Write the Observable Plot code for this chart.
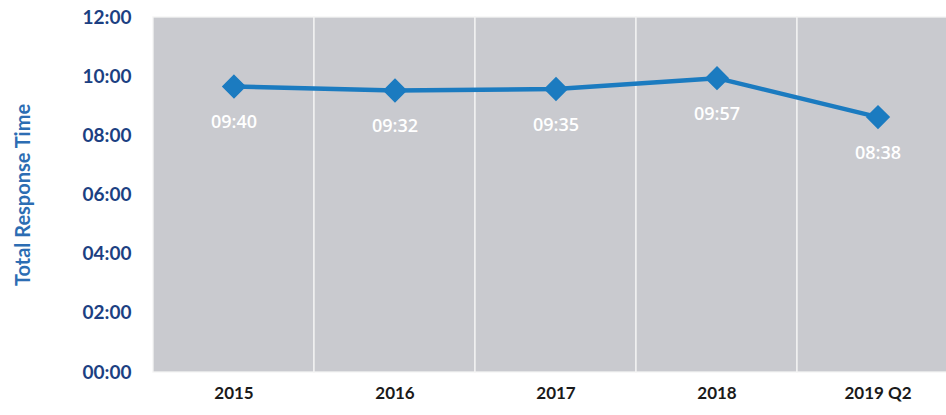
<!DOCTYPE html>
<html>
<head>
<meta charset="utf-8">
<script src="https://cdn.jsdelivr.net/npm/d3@7"></script>
<script src="https://cdn.jsdelivr.net/npm/@observablehq/plot@0.6"></script>
<style>
  html, body { margin: 0; padding: 0; background: #fff; overflow: hidden; }
  #chart svg { display: block; overflow: visible; }
</style>
</head>
<body>
<div id="chart"></div>
<script>
const categories = ["2015", "2016", "2017", "2018", "2019 Q2"];
const responseSeconds = [580, 572, 575, 597, 518]; // 09:40, 09:32, 09:35, 09:57, 08:38
const yTicksMinutes = [0, 2, 4, 6, 8, 10, 12];

const fmt = (secs) => {
  const m = Math.floor(secs / 60), s = Math.round(secs - m * 60);
  return String(m).padStart(2, "0") + ":" + String(s).padStart(2, "0");
};
const data = categories.map((c, i) => ({cat: c, min: responseSeconds[i] / 60, label: fmt(responseSeconds[i])}));

const chart = Plot.plot({
  width: 946,
  height: 415,
  marginTop: 17,
  marginBottom: 43,
  marginLeft: 153,
  marginRight: -12,
  style: {fontFamily: "Lato, 'Open Sans', sans-serif", background: "transparent"},
  x: {domain: categories, padding: 0, label: null},
  y: {domain: [0, 12], label: null},
  marks: [
    Plot.cell(categories, {x: d => d, fill: "#c9cacf", stroke: "#f4f4f4", strokeWidth: 1.3}),
    Plot.axisY({ticks: yTicksMinutes, tickSize: 0, tickPadding: 22, tickFormat: m => fmt(m * 60),
      fontSize: 19, fontWeight: "bold", fill: "#1c3f82", label: null}),
    Plot.axisX({tickSize: 0, tickPadding: 14, fontSize: 17, fontWeight: "bold", fill: "#1a1a1a", label: null}),
    Plot.text(["Total Response Time"], {frameAnchor: "left", textAnchor: "middle", dx: -130, rotate: -90, fontSize: 20, fontWeight: "bold", fill: "#2c6db3"}),
    Plot.line(data, {x: "cat", y: "min", stroke: "#1b7bc0", strokeWidth: 4.5}),
    Plot.dot(data, {x: "cat", y: "min", symbol: "diamond2", r: 10, fill: "#1b7bc0", stroke: "#1b7bc0"}),
    Plot.text(data, {x: "cat", y: "min", text: "label", dy: 36, fill: "#fff", fontSize: 18, fontWeight: 600, fontFamily: "'Open Sans', sans-serif"})
  ]
});
document.getElementById("chart").appendChild(chart);
</script>
</body>
</html>
